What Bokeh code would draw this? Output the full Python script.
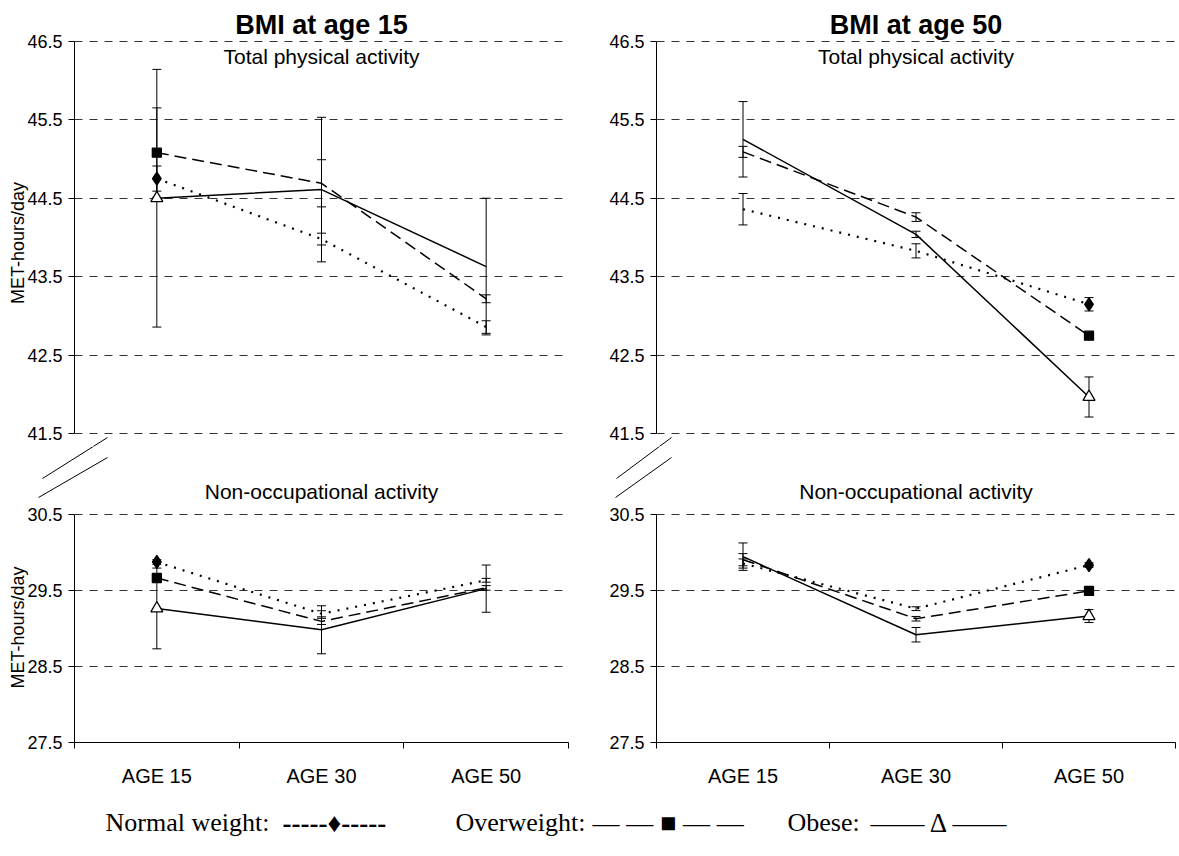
from bokeh.plotting import figure
from bokeh.models import Range1d, FixedTicker, Label
from bokeh.layouts import column, row
from bokeh.embed import file_html
from bokeh.resources import INLINE
from bokeh.core.properties import value

# ---------------- data ----------------
CATEGORIES = ["AGE 15", "AGE 30", "AGE 50"]
COLUMN_TITLES = ["BMI at age 15", "BMI at age 50"]
PANEL_TITLES = ["Total physical activity", "Non-occupational activity"]
Y_LABEL = "MET-hours/day"

TOP_TICKS = [41.5, 42.5, 43.5, 44.5, 45.5, 46.5]
BOT_TICKS = [27.5, 28.5, 29.5, 30.5]
BOT_GRID = [28.5, 29.5, 30.5]

# BMI at age 15 - total physical activity
T15_NORMAL = [44.75, 43.98, 42.86]
T15_NORMAL_ERR = [0.16, 0.075, 0.08]
T15_OVER = [45.08, 44.69, 43.22]
T15_OVER_ERR = [0.57, 0.30, 0.05]
T15_OBESE = [44.50, 44.61, 43.63]
T15_OBESE_ERR = [1.64, 0.92, 0.87]

# BMI at age 50 - total physical activity
T50_NORMAL = [44.36, 43.83, 43.15]
T50_NORMAL_ERR = [0.20, 0.09, 0.085]
T50_OVER = [45.09, 44.26, 42.75]
T50_OVER_ERR = [0.07, 0.055, 0.03]
T50_OBESE = [45.25, 44.04, 41.97]
T50_OBESE_ERR = [0.48, 0.04, 0.255]

# BMI at age 15 - non-occupational activity
N15_NORMAL = [29.87, 29.19, 29.63]
N15_NORMAL_ERR = [0.03, 0.04, 0.025]
N15_OVER = [29.66, 29.09, 29.53]
N15_OVER_ERR = [0.03, 0.04, 0.03]
N15_OBESE = [29.26, 28.98, 29.52]
N15_OBESE_ERR = [0.53, 0.315, 0.31]

# BMI at age 50 - non-occupational activity
N50_NORMAL = [29.85, 29.257, 29.83]
N50_NORMAL_ERR = [0.06, 0.025, 0.03]
N50_OVER = [29.90, 29.125, 29.49]
N50_OVER_ERR = [0.08, 0.03, 0.03]
N50_OBESE = [29.94, 28.915, 29.16]
N50_OBESE_ERR = [0.18, 0.095, 0.085]

LEGEND_LABELS = ["Normal weight:", "Overweight:", "Obese:"]
LEGEND_KEYS = ["-----\u2666-----",
               "\u2014 \u2014 \u25a0 \u2014 \u2014",
               "\u2014\u2014 \u0394 \u2014\u2014"]

# ---------------- styles / layout (page pixels) ----------------
SANS = "Liberation Sans"
SERIF = "Liberation Serif"
STYLES = {
    "normal": dict(dash="2 7", width=2.2, marker="diamond", size=13, fill="black"),
    "over": dict(dash="12 6", width=1.5, marker="square", size=9, fill="black"),
    "obese": dict(dash="solid", width=1.5, marker="triangle", size=12, fill="white"),
}

X_POS = [i + 0.5 for i in range(len(CATEGORIES))]
XR = (0, len(CATEGORIES))

COLS = {  # canvas x, canvas width, frame x, frame width
    "left": (0, 590, 74, 494),
    "right": (590, 587, 656, 519),
}
# rows: canvas y, canvas height, frame y, frame height
TOP_ROW = (0, 446, 39, 407)
MID_ROW = (446, 60, 446, 60)
BOT_ROW = (506, 289, 512, 230)
# pixel rows of the first and last tick of each panel
TOP_TICK_PX = (433.4, 40.6)   # 41.5, 46.5
BOT_TICK_PX = (742.0, 513.5)  # 27.5, 30.5
TEXT_SHIFT = 8  # bokeh draws alphabetic baselines this much lower

# axis-break strokes, in page pixels
BREAKS = {
    "left": [((107, 437), (42, 478)), ((107, 457), (38, 497))],
    "right": [((671, 437), (616, 478)), ((671, 457), (615, 497))],
}


def y_range_for(row_geom, ticks, tick_px):
    _, _, fy, fh = row_geom
    ppu = (tick_px[0] - tick_px[1]) / (ticks[-1] - ticks[0])
    lo = ticks[0] - (fy + fh - tick_px[0]) / ppu
    hi = ticks[-1] + (tick_px[1] - fy) / ppu
    return lo, hi, ppu


def make_panel(side, level):
    cx, w, fx, fw = COLS[side]
    rg = TOP_ROW if level == "top" else BOT_ROW
    cy, h, fy, fh = rg
    ticks = TOP_TICKS if level == "top" else BOT_TICKS
    grid = TOP_TICKS if level == "top" else BOT_GRID
    tick_px = TOP_TICK_PX if level == "top" else BOT_TICK_PX
    ylo, yhi, ppu = y_range_for(rg, ticks, tick_px)
    p = figure(width=w, height=h, x_range=Range1d(*XR), y_range=Range1d(ylo, yhi),
               output_backend="svg", toolbar_location=None,
               x_axis_location=("below" if level == "bot" else None),
               min_border_left=fx - cx, min_border_right=w - (fx - cx) - fw,
               min_border_top=fy - cy, min_border_bottom=h - (fy - cy) - fh)
    p.outline_line_color = None
    p.background_fill_color = None
    p.border_fill_color = None
    p.xgrid.visible = False
    ya = p.yaxis[0]
    ya.ticker = FixedTicker(ticks=ticks)
    ya.bounds = (ticks[0], ticks[-1])
    ya.axis_line_color = "black"
    ya.major_tick_line_color = "black"
    ya.major_tick_out = 6
    ya.major_tick_in = 0
    ya.minor_tick_line_color = None
    ya.major_label_standoff = 6
    ya.major_label_text_font = SANS
    ya.major_label_text_font_size = "18px"
    ya.major_label_text_color = "black"
    if side == "left":
        ya.axis_label = Y_LABEL
        ya.axis_label_text_font = SANS
        ya.axis_label_text_font_size = "18px"
        ya.axis_label_text_font_style = "normal"
        ya.axis_label_text_color = "black"
        ya.axis_label_standoff = -4
    p.ygrid.ticker = FixedTicker(ticks=grid)
    p.ygrid.grid_line_color = "#333333"
    p.ygrid.grid_line_dash = "8 7"
    p.ygrid.grid_line_width = 1
    if level == "bot":
        xa = p.xaxis[0]
        xa.ticker = FixedTicker(ticks=X_POS, minor_ticks=list(range(XR[0], XR[1] + 1)))
        xa.major_label_overrides = {x: c for x, c in zip(X_POS, CATEGORIES)}
        xa.major_tick_line_color = None
        xa.major_tick_out = 0
        xa.major_tick_in = 0
        xa.minor_tick_line_color = "black"
        xa.minor_tick_out = 6
        xa.minor_tick_in = 0
        xa.axis_line_color = "black"
        xa.major_label_standoff = 16
        xa.major_label_text_font = SANS
        xa.major_label_text_font_size = "20px"
        xa.major_label_text_color = "black"
    return p, ppu


def draw(p, series, marker_idx):
    for ys, errs, key in series:
        st = STYLES[key]
        p.line(X_POS, ys, line_color="black", line_width=st["width"], line_dash=st["dash"])
    for ys, errs, key in series:
        lo = [y - e for y, e in zip(ys, errs)]
        hi = [y + e for y, e in zip(ys, errs)]
        p.segment(x0=X_POS, y0=lo, x1=X_POS, y1=hi, line_color="black", line_width=1)
        p.scatter(X_POS + X_POS, lo + hi, marker="dash", size=9, line_color="black", line_width=1)
    for ys, errs, key in series:
        st = STYLES[key]
        p.scatter([X_POS[marker_idx]], [ys[marker_idx]], marker=st["marker"], size=st["size"],
                  fill_color=st["fill"], line_color="black", line_width=1.3)


panels = {}
for side in ("left", "right"):
    for level in ("top", "bot"):
        panels[(side, level)] = make_panel(side, level)

draw(panels[("left", "top")][0], [(T15_NORMAL, T15_NORMAL_ERR, "normal"),
                                  (T15_OVER, T15_OVER_ERR, "over"),
                                  (T15_OBESE, T15_OBESE_ERR, "obese")], 0)
draw(panels[("right", "top")][0], [(T50_NORMAL, T50_NORMAL_ERR, "normal"),
                                   (T50_OVER, T50_OVER_ERR, "over"),
                                   (T50_OBESE, T50_OBESE_ERR, "obese")], 2)
draw(panels[("left", "bot")][0], [(N15_NORMAL, N15_NORMAL_ERR, "normal"),
                                  (N15_OVER, N15_OVER_ERR, "over"),
                                  (N15_OBESE, N15_OBESE_ERR, "obese")], 0)
draw(panels[("right", "bot")][0], [(N50_NORMAL, N50_NORMAL_ERR, "normal"),
                                   (N50_OVER, N50_OVER_ERR, "over"),
                                   (N50_OBESE, N50_OBESE_ERR, "obese")], 2)

xc = (XR[0] + XR[1]) / 2
mids = {}
for i, side in enumerate(("left", "right")):
    cx, w, fx, fw = COLS[side]
    pt, ppu = panels[(side, "top")]
    # column heading in the panel's top border
    pt.title.text = COLUMN_TITLES[i]
    pt.title.align = "center"
    pt.title.text_font = SANS
    pt.title.text_font_size = "27px"
    pt.title.text_font_style = "bold"
    pt.title.text_color = "black"
    pt.title.standoff = 0
    pt.title.offset = 0
    # panel heading, just under the top gridline
    pt.add_layout(Label(x=xc, y=TOP_TICKS[-1] - (23.5 - TEXT_SHIFT) / ppu, text=PANEL_TITLES[0],
                        text_align="center", text_baseline="alphabetic", text_font=SANS,
                        text_font_size="21px", text_color="black"))

    # upper part of the axis-break strokes that falls inside the top frame
    def to_top(sx, sy):
        return ((sx - fx) / fw * (XR[1] - XR[0]) + XR[0],
                TOP_TICKS[0] - (sy - TOP_TICK_PX[0]) / ppu)
    strokes = BREAKS[side]
    a = [to_top(*s[0]) for s in strokes]
    b = [to_top(*s[1]) for s in strokes]
    pt.segment(x0=[q[0] for q in a], y0=[q[1] for q in a], x1=[q[0] for q in b],
               y1=[q[1] for q in b], line_color="black", line_width=1)

    # middle strip: axis-break strokes and the lower panel's heading
    my, mh, _, _ = MID_ROW
    m = figure(width=w, height=mh, x_range=Range1d(cx, cx + w), y_range=Range1d(my + mh, my),
               output_backend="svg", toolbar_location=None, x_axis_location=None,
               y_axis_location=None, min_border=0)
    m.outline_line_color = None
    m.grid.visible = False
    m.background_fill_color = None
    m.border_fill_color = None
    m.segment(x0=[s[0][0] for s in strokes], y0=[s[0][1] for s in strokes],
              x1=[s[1][0] for s in strokes], y1=[s[1][1] for s in strokes],
              line_color="black", line_width=1)
    m.text(x=[fx + fw / 2], y=[BOT_TICK_PX[1] - 15 - TEXT_SHIFT], text=[PANEL_TITLES[1]],
           text_align="center", text_baseline="alphabetic", text_font=value(SANS),
           text_font_size="21px", text_color="black")
    mids[side] = m

# legend strip
LEG_W, LEG_H = 1177, 50
leg = figure(width=LEG_W, height=LEG_H, x_range=Range1d(0, LEG_W), y_range=Range1d(LEG_H, 0),
             output_backend="svg", toolbar_location=None, x_axis_location=None,
             y_axis_location=None, min_border=0)
leg.outline_line_color = None
leg.grid.visible = False
leg.border_fill_color = None
leg.background_fill_color = None
LEG_LABEL_X = [105, 455, 787]
LEG_KEY_X = [282, 592, 870]
LEG_KEY_STYLE = ["bold", "normal", "normal"]
leg.text(x=LEG_LABEL_X, y=[35 - TEXT_SHIFT] * 3, text=LEGEND_LABELS, text_font=value(SERIF),
         text_font_size="26px", text_baseline="alphabetic", text_align="left", text_color="black")
leg.text(x=LEG_KEY_X, y=[35 - TEXT_SHIFT] * 3, text=LEGEND_KEYS, text_font=value(SERIF),
         text_font_size="27px", text_font_style=LEG_KEY_STYLE, text_baseline="alphabetic",
         text_align="left", text_color="black")

layout = column(row(panels[("left", "top")][0], panels[("right", "top")][0]),
                row(mids["left"], mids["right"]),
                row(panels[("left", "bot")][0], panels[("right", "bot")][0]),
                leg)

open("out.html", "w").write(file_html(layout, INLINE))
